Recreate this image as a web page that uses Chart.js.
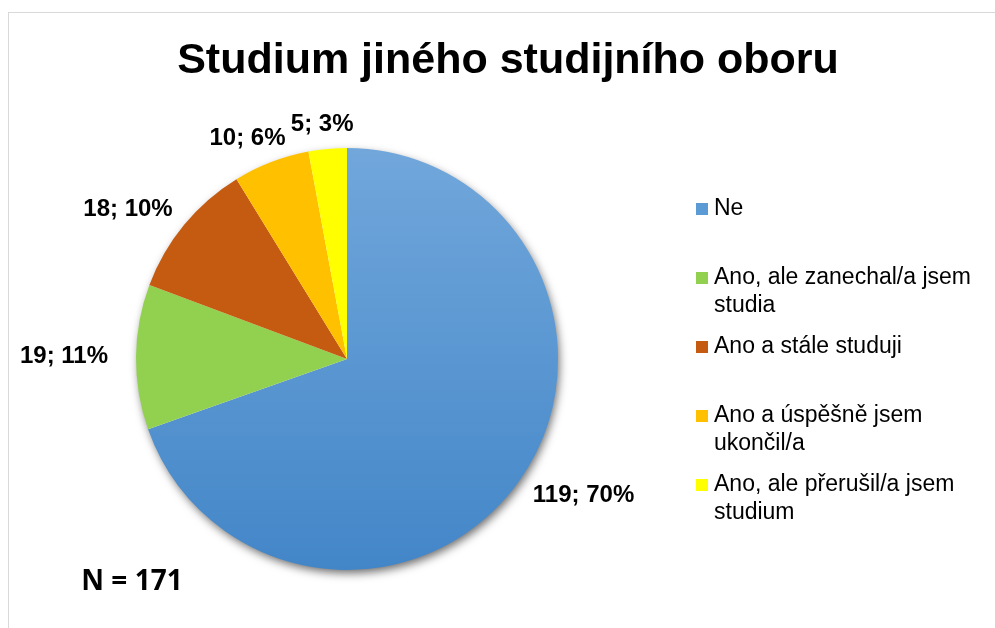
<!DOCTYPE html>
<html>
<head>
<meta charset="utf-8">
<script src="https://cdn.jsdelivr.net/npm/chart.js@4/dist/chart.umd.min.js"></script>
<style>
  body { margin: 0; background: #fff; }
  #wrap { position: relative; width: 995px; height: 628px; overflow: hidden; }
  #frame { position: absolute; left: 8px; top: 12px; width: 1100px; height: 700px;
           border-left: 1px solid #d9d9d9; border-top: 1px solid #d9d9d9; }
  #pie { position: absolute; left: 0; top: 0; }
</style>
</head>
<body>
<div id="wrap">
  <div id="frame"></div>
  <canvas id="pie" width="995" height="628"></canvas>
</div>
<script>
const titleText = "Studium jiného studijního oboru";
const noteText = "N = 171";
const categories = [
  ["Ne"],
  ["Ano, ale zanechal/a jsem", "studia"],
  ["Ano a stále studuji"],
  ["Ano a úspěšně jsem", "ukončil/a"],
  ["Ano, ale přerušil/a jsem", "studium"]
];
const counts = [119, 19, 18, 10, 5];
const percents = ["70%", "11%", "10%", "6%", "3%"];
const colors = ["#5b9bd5", "#92d050", "#c55a11", "#ffc000", "#ffff00"];

const FONT = "'Liberation Sans', Arial, sans-serif";

// blue slice gets a soft top-to-bottom gradient like the Office original
const sliceColor = (ctx) => {
  const chart = ctx.chart;
  if (ctx.dataIndex !== 0 || !chart.chartArea) return colors[ctx.dataIndex];
  const a = chart.chartArea;
  const g = chart.ctx.createLinearGradient(0, a.top, 0, a.bottom);
  g.addColorStop(0, "#71a7db");
  g.addColorStop(1, "#4386c8");
  return g;
};

const extras = {
  id: "extras",
  beforeDatasetsDraw(chart) {
    const arc = chart.getDatasetMeta(0).data[0];
    if (!arc) return;
    const ctx = chart.ctx;
    ctx.save();
    ctx.shadowColor = "rgba(0,0,0,0.6)";
    ctx.shadowBlur = 10;
    ctx.shadowOffsetX = 2;
    ctx.shadowOffsetY = 4;
    ctx.fillStyle = "#fff";
    ctx.beginPath();
    ctx.arc(arc.x, arc.y, arc.outerRadius - 1, 0, Math.PI * 2);
    ctx.fill();
    ctx.restore();
  },
  afterDatasetsDraw(chart) {
    const ctx = chart.ctx;
    ctx.save();
    ctx.fillStyle = "#000";

    // title
    ctx.font = "bold 43px " + FONT;
    ctx.textAlign = "center";
    ctx.textBaseline = "alphabetic";
    ctx.fillText(titleText, 508, 73);

    // data labels outside each slice
    ctx.font = "bold 24px " + FONT;
    ctx.textBaseline = "middle";
    chart.getDatasetMeta(0).data.forEach((arc, i) => {
      const mid = (arc.startAngle + arc.endAngle) / 2;
      const txt = counts[i] + "; " + percents[i];
      const w = ctx.measureText(txt).width;
      const cx = arc.x + Math.cos(mid) * (arc.outerRadius + 28 + w / 2);
      const cy = arc.y + Math.sin(mid) * (arc.outerRadius + 13 + 12);
      ctx.fillText(txt, cx, cy);
    });

    // legend
    ctx.textAlign = "left";
    ctx.font = "23px " + FONT;
    chart.data.labels.forEach((lines, i) => {
      const y = 209 + i * 69;
      ctx.fillStyle = colors[i];
      ctx.fillRect(696, y - 6, 12, 12);
      ctx.fillStyle = "#000";
      lines.forEach((line, j) => ctx.fillText(line, 714, y + j * 28));
    });

    // sample size note
    ctx.font = "bold 28px 'Open Sans', " + FONT;
    ctx.textAlign = "center";
    ctx.textBaseline = "alphabetic";
    ctx.fillText(noteText, 132, 590);
    ctx.restore();
  }
};

new Chart(document.getElementById("pie"), {
  type: "pie",
  data: {
    labels: categories,
    datasets: [{
      data: counts,
      backgroundColor: sliceColor,
      borderWidth: 0
    }]
  },
  options: {
    responsive: false,
    animation: false,
    rotation: 0,
    layout: { padding: { left: 136, right: 437, top: 148, bottom: 58 } },
    plugins: {
      legend: { display: false },
      title: { display: false },
      tooltip: { enabled: false }
    }
  },
  plugins: [extras]
});
</script>
</body>
</html>
